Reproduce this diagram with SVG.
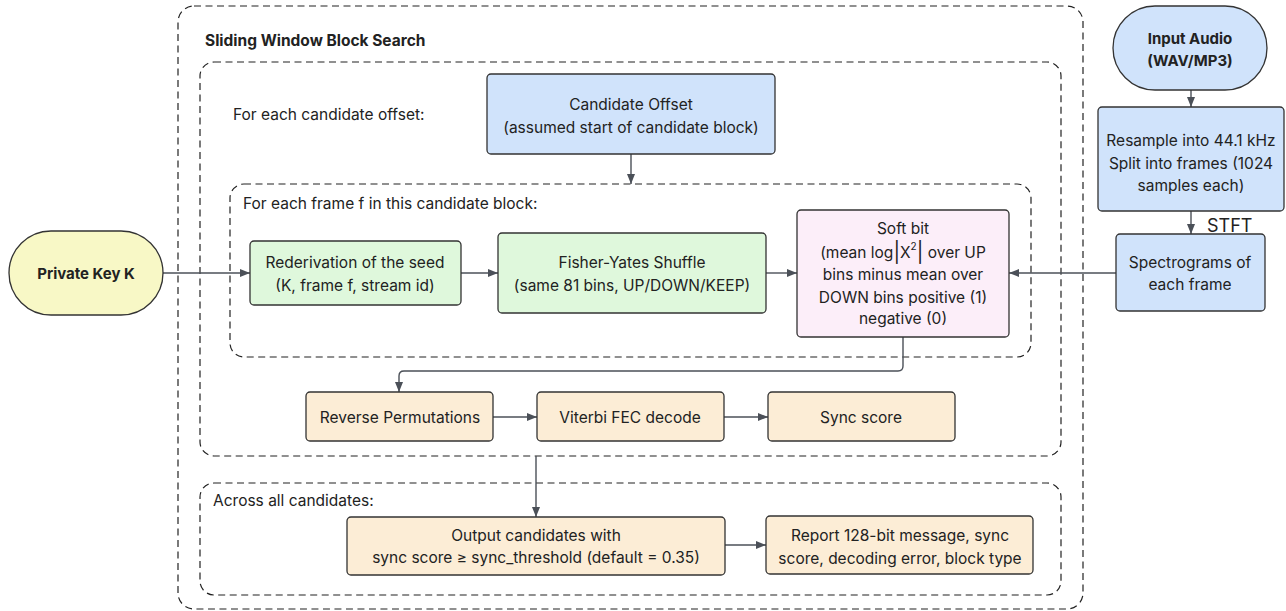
<svg xmlns="http://www.w3.org/2000/svg" width="1286" height="611" viewBox="0 0 1286 611">
<defs>
<style>
text{font-family:Inter,"Noto Sans","Liberation Sans",sans-serif;font-size:15.5px;fill:#222;}
.c{text-anchor:middle;dominant-baseline:central;}
.b{font-weight:bold;font-size:15px;}
.lbl{font-size:15.5px;}
.grp{fill:none;stroke:#222;stroke-width:1.2;stroke-dasharray:7 4.5;}
.n{stroke:#333;stroke-width:1.3;}
.blue{fill:#d0e3fb;}
.green{fill:#dff8dc;}
.yellow{fill:#f8f8c6;}
.pink{fill:#fceef9;}
.tan{fill:#fcedd6;}
.e{fill:none;stroke:#4b5058;stroke-width:1.4;marker-end:url(#ah);}
</style>
<marker id="ah" viewBox="0 0 10 10" refX="10" refY="5" markerWidth="10" markerHeight="10" markerUnits="userSpaceOnUse" orient="auto">
<path d="M0,1 L10,5 L0,9 z" fill="#4b5058"/>
</marker>
</defs>
<rect width="1286" height="611" fill="#ffffff"/>

<g id="groups">
<rect class="grp" x="178" y="6" width="905" height="603" rx="16"/>
<text class="b" x="205" y="46" style="font-size:15.5px">Sliding Window Block Search</text>
<rect class="grp" x="200" y="62" width="861" height="394" rx="14"/>
<text class="lbl" x="233" y="120">For each candidate offset:</text>
<rect class="grp" x="230" y="184" width="801" height="173" rx="14"/>
<text class="lbl" x="243" y="209">For each frame f in this candidate block:</text>
<rect class="grp" x="200" y="483" width="861" height="112" rx="14"/>
<text class="lbl" x="213" y="506">Across all candidates:</text>
</g>

<g id="connectors">
<path class="e" d="M631,154 V184"/>
<path class="e" d="M163,273 H250"/>
<path class="e" d="M461,273 H498"/>
<path class="e" d="M766,273 H797"/>
<path class="e" d="M1116,273 H1009"/>
<path class="e" d="M1191,90 V107"/>
<path class="e" d="M1191,211 V234"/>
<path class="e" d="M903,337 V366 Q903,371 898,371 H404 Q399,371 399,376 V392"/>
<path class="e" d="M493,417 H537"/>
<path class="e" d="M724,417 H768"/>
<path class="e" d="M536,456 V517"/>
<path class="e" d="M725,545 H766"/>
<text x="1207" y="232" style="font-size:18px">STFT</text>
</g>

<g id="input-audio">
<rect class="n blue" x="1113" y="6" width="154" height="84" rx="42"/>
<text class="c b" x="1190" y="38">Input Audio</text>
<text class="c b" x="1190" y="60">(WAV/MP3)</text>
</g>

<g id="resample">
<rect class="n blue" x="1098" y="107" width="186" height="104" rx="4"/>
<text class="c" x="1191" y="140">Resample into 44.1 kHz</text>
<text class="c" x="1191" y="163">Split into frames (1024</text>
<text class="c" x="1191" y="185">samples each)</text>
</g>

<g id="spectrograms">
<rect class="n blue" x="1116" y="234" width="149" height="77" rx="4"/>
<text class="c" x="1190" y="262">Spectrograms of</text>
<text class="c" x="1190" y="284">each frame</text>
</g>

<g id="private-key">
<rect class="n yellow" x="9" y="231" width="154" height="84" rx="42"/>
<text class="c b" x="86" y="273">Private Key K</text>
</g>

<g id="candidate-offset">
<rect class="n blue" x="487" y="74" width="288" height="80" rx="4"/>
<text class="c" x="631" y="104">Candidate Offset</text>
<text class="c" x="631" y="127">(assumed start of candidate block)</text>
</g>

<g id="rederivation">
<rect class="n green" x="250" y="241" width="211" height="64" rx="4"/>
<text class="c" x="355" y="262">Rederivation of the seed</text>
<text class="c" x="355" y="285">(K, frame f, stream id)</text>
</g>

<g id="fisher-yates">
<rect class="n green" x="498" y="233" width="268" height="80" rx="4"/>
<text class="c" x="632" y="262">Fisher-Yates Shuffle</text>
<text class="c" x="632" y="285">(same 81 bins, UP/DOWN/KEEP)</text>
</g>

<g id="soft-bit">
<rect class="n pink" x="797" y="210" width="212" height="127" rx="4"/>
<text class="c" x="903" y="228">Soft bit</text>
<text class="c" x="903" y="252">(mean log<tspan style="font-size:20px">|</tspan>X<tspan dy="-6" style="font-size:10px">2</tspan><tspan dy="6" style="font-size:20px">|</tspan> over UP</text>
<text class="c" x="903" y="274">bins minus mean over</text>
<text class="c" x="903" y="297">DOWN bins positive (1)</text>
<text class="c" x="903" y="318">negative (0)</text>
</g>

<g id="reverse-permutations">
<rect class="n tan" x="306" y="392" width="187" height="49" rx="4"/>
<text class="c" x="400" y="417">Reverse Permutations</text>
</g>

<g id="viterbi">
<rect class="n tan" x="537" y="392" width="187" height="49" rx="4"/>
<text class="c" x="630" y="417">Viterbi FEC decode</text>
</g>

<g id="sync-score">
<rect class="n tan" x="768" y="392" width="187" height="49" rx="4"/>
<text class="c" x="861" y="417">Sync score</text>
</g>

<g id="output-candidates">
<rect class="n tan" x="347" y="517" width="378" height="58" rx="4"/>
<text class="c" x="536" y="535">Output candidates with</text>
<text class="c" x="536" y="557">sync score ≥ sync_threshold (default = 0.35)</text>
</g>

<g id="report">
<rect class="n tan" x="766" y="516" width="267" height="58" rx="4"/>
<text class="c" x="900" y="535">Report 128-bit message, sync</text>
<text class="c" x="900" y="558">score, decoding error, block type</text>
</g>
</svg>
